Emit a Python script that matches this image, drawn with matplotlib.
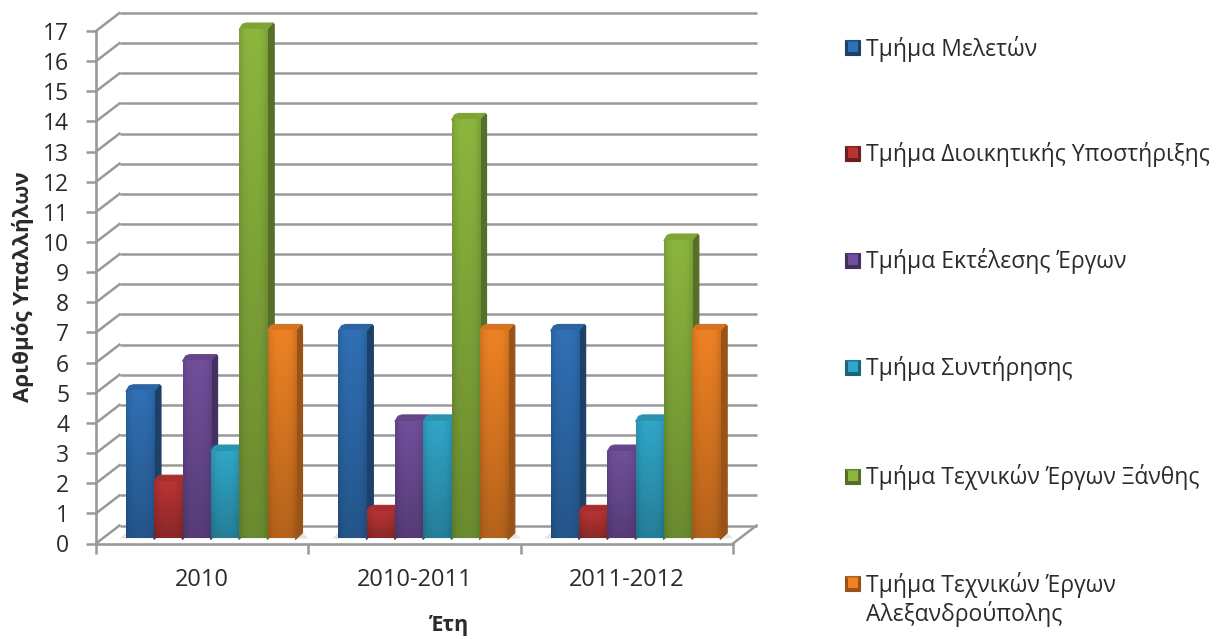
import matplotlib
matplotlib.use("Agg")
import matplotlib.pyplot as plt
import numpy as np
from matplotlib.patches import Polygon, Rectangle
from matplotlib.transforms import Affine2D, IdentityTransform

plt.rcParams['font.family'] = ['Open Sans', 'Noto Sans', 'DejaVu Sans']

years = ['2010', '2010-2011', '2011-2012']
meletes = [5, 7, 7]
dioikisi = [2, 1, 1]
ektelesi = [6, 4, 3]
syntirisi = [3, 4, 4]
xanthi = [17, 14, 10]
alexandroupoli = [7, 7, 7]
series = [meletes, dioikisi, ektelesi, syntirisi, xanthi, alexandroupoli]
names = ['Τμήμα Μελετών', 'Τμήμα Διοικητικής Υποστήριξης', 'Τμήμα Εκτέλεσης Έργων',
         'Τμήμα Συντήρησης', 'Τμήμα Τεχνικών Έργων Ξάνθης',
         'Τμήμα Τεχνικών Έργων\nΑλεξανδρούπολης']
y_ticks = list(range(0, 18))

# front colour, side colour, top colour
colors = ['#3070b6', '#b83434', '#714f9c', '#30a6c8', '#8cb63e', '#ee8224']
sides = ['#1d4068', '#6e1e1e', '#43305f', '#1c6478', '#566f28', '#9a5316']
tops = ['#2c64a4', '#a82e2e', '#644688', '#2b93b0', '#7ea438', '#d87420']

W, H = 1227, 639
GRID = '#999999'
TEXT = '#2b2b2b'

fig = plt.figure(figsize=(W / 100, H / 100), dpi=100)
ax = fig.add_axes([96 / W, 1 - 543.5 / H, 637 / W, 512.5 / H])
ax.set_xlim(0, 3)
ax.set_ylim(0, 17)
ax.patch.set_visible(False)

# back wall and the diagonal lines going to it
back = ax.transData + Affine2D().translate(23.5, 18)
ax.hlines(y_ticks, 0, 3, colors=GRID, lw=1.8, transform=back, clip_on=False, zorder=1)
for y in y_ticks:
    p = ax.transData.transform((0, y))
    ax.plot([p[0], p[0] + 23.5], [p[1], p[1] + 18], color=GRID, lw=1.8,
            transform=IdentityTransform(), clip_on=False, zorder=1)
p = ax.transData.transform((3, 0))
ax.plot([p[0], p[0] + 23.5], [p[1], p[1] + 18], color=GRID, lw=1.8,
        transform=IdentityTransform(), clip_on=False, zorder=1)

# bars stand a bit inside the floor
bar_tr = ax.transData + Affine2D().translate(0, 1.5)
first = 30 / 212.3
pitch = 28.3 / 212.3
bar_w = 28 / 212.3
floor = 0.12
dx, dy = 7, 6.5
z = 3

# soft shadow on the floor behind each group
for g in range(len(years)):
    a = bar_tr.transform((g + first - 0.03, floor))
    b = bar_tr.transform((g + first + 6 * pitch + 0.06, floor))
    ax.add_patch(Polygon([a, (a[0] + 7, a[1] + 6), (b[0] - 7, a[1] + 6), b], fc='#e4e4e4', ec='none',
                         transform=IdentityTransform(), clip_on=False, zorder=2))

for g in range(len(years)):
    for s, vals in enumerate(series):
        x0 = g + first + s * pitch
        x1 = x0 + bar_w
        v = vals[g]
        bl = bar_tr.transform((x0, floor))
        tr_ = bar_tr.transform((x1, v))
        side = [(tr_[0], bl[1] - 1), (tr_[0] + dx, bl[1] + dy - 1), (tr_[0] + dx, tr_[1] + dy - 1.5),
                (tr_[0] + dx - 1.5, tr_[1] + dy), tr_]
        top = [(bl[0], tr_[1]), (bl[0] + dx * 0.45, tr_[1] + dy * 0.8), (bl[0] + dx, tr_[1] + dy),
               (tr_[0] + dx - 1.5, tr_[1] + dy), tr_]
        ax.add_patch(Polygon(side, fc=sides[s], ec=sides[s], lw=0.8, joinstyle='round',
                             transform=IdentityTransform(), clip_on=False, zorder=z))
        ax.add_patch(Polygon(top, fc=tops[s], ec=tops[s], lw=0.8, joinstyle='round',
                             transform=IdentityTransform(), clip_on=False, zorder=z))
        rect = ax.bar(x0, v - floor, bar_w, bottom=floor, align='edge', color=colors[s], transform=bar_tr,
                      clip_on=False, zorder=z)[0]
        # front face shading: darker to the bottom and at both edges
        rgb = np.array(matplotlib.colors.to_rgb(colors[s]))
        vert = np.linspace(1.0, 0.76, 60)[:, None]
        horiz = 1 - 0.12 * np.abs(np.linspace(-1, 1, 20))[None, :] ** 3
        img = np.clip((vert * horiz)[..., None] * rgb, 0, 1)
        im = ax.imshow(img, extent=(x0, x1, floor, v), aspect='auto', transform=bar_tr,
                       interpolation='bilinear', clip_on=False, zorder=z)
        z += 1

ax.set_xlim(0, 3)
ax.set_ylim(0, 17)

for name in ['top', 'right']:
    ax.spines[name].set_visible(False)
for name in ['left', 'bottom']:
    ax.spines[name].set_color(GRID)
    ax.spines[name].set_linewidth(1.9)
    ax.spines[name].set_zorder(2.5)

ax.set_yticks(y_ticks)
ax.set_yticklabels([str(t) for t in y_ticks], fontsize=16.5, color=TEXT)
ax.tick_params(axis='y', length=7.2, width=1.8, color=GRID, pad=12)
ax.set_xticks(range(len(years) + 1))
ax.set_xticklabels([])
ax.set_xticks([i + 0.5 for i in range(len(years))], minor=True)
ax.set_xticklabels(years, minor=True, fontsize=17, color=TEXT)
ax.tick_params(axis='x', which='major', length=7.2, width=1.8, color=GRID)
ax.tick_params(axis='x', which='minor', length=0, pad=18)

ax.set_ylabel('Αριθμός Υπαλλήλων', fontsize=16, fontweight='bold', color=TEXT)
ax.yaxis.set_label_coords(-62 / 637, (543.5 - 287) / 512.5)
ax.set_xlabel('Έτη', fontsize=15.5, fontweight='bold', color=TEXT)
ax.xaxis.set_label_coords((449 - 96) / 637, (543.5 - 625) / 512.5)
ax.xaxis.label.set_verticalalignment('center')

# legend rows
legend_y = [47, 153, 260, 367, 476, 583]
for s, name in enumerate(names):
    yp = H - legend_y[s]
    fig.add_artist(Rectangle((845, yp - 7.5), 15, 15, fc=sides[s], ec=sides[s], lw=0.8,
                             transform=IdentityTransform()))
    fig.add_artist(Rectangle((847.5, yp - 5), 10, 10, fc=colors[s], ec='none',
                             transform=IdentityTransform()))
    fig.add_artist(Polygon([(846, yp + 6.5), (859, yp + 6.5), (852.5, yp - 1)], fc=matplotlib.colors.to_rgba(colors[s], 0.6),
                           ec='none', transform=IdentityTransform()))
    fig.text(866 / W, (yp - 1.5) / H, name.split('\n')[0], fontsize=16.5, color=TEXT, va='center')
    if '\n' in name:
        fig.text(866 / W, (yp - 31) / H, name.split('\n')[1], fontsize=16.5, color=TEXT, va='center')

fig.savefig('out.png', dpi=100, facecolor='white')
